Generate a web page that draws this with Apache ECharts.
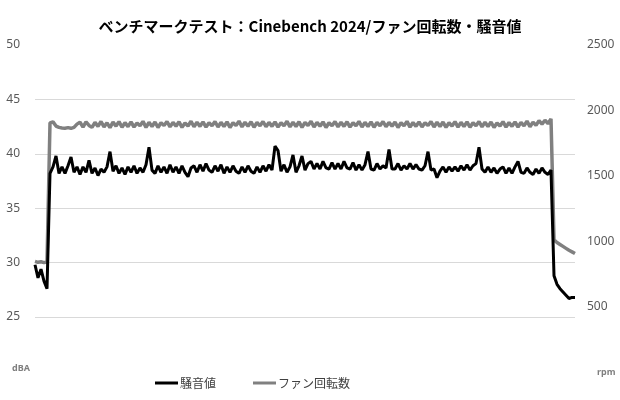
<!DOCTYPE html>
<html><head><meta charset="utf-8">
<script src="https://cdn.jsdelivr.net/npm/echarts@6/dist/echarts.min.js"></script>
<style>html,body{margin:0;padding:0;background:#fff}#c{width:620px;height:400px}</style>
</head><body><div id="c"></div>
<script>
const titleText = 'ベンチマークテスト：Cinebench 2024/ファン回転数・騒音値';
const seriesNames = ['騒音値', 'ファン回転数'];
const dbaTicks = [25, 30, 35, 40, 45, 50];
const rpmTicks = [500, 1000, 1500, 2000, 2500];
const noise = [
29.8,28.6,29.4,28.3,27.6,38.2,38.8,39.8,38.2,38.8,
38.2,38.9,39.7,38.3,38.8,38.1,38.8,38.3,39.4,38.2,
38.7,38.0,38.6,38.3,38.8,40.2,38.4,38.9,38.2,38.7,
38.1,38.8,38.3,38.9,38.2,38.7,38.3,39.0,40.6,38.5,
38.2,38.9,38.3,38.8,38.2,39.0,38.3,38.8,38.2,38.9,
38.3,37.9,38.7,38.9,38.3,39.0,38.4,39.1,38.5,38.3,
38.9,38.4,39.0,38.2,38.8,38.3,38.9,38.4,38.2,38.8,
38.3,38.9,38.4,38.2,38.8,38.3,38.9,38.4,39.0,38.5,
40.7,40.3,38.4,39.0,38.3,38.8,39.9,38.3,38.9,39.8,
38.5,39.1,39.3,38.6,39.1,38.6,39.3,38.7,38.6,39.2,
38.6,39.1,38.6,39.3,38.7,38.6,39.2,38.5,39.0,38.5,
39.0,40.2,38.6,38.5,39.1,38.6,38.9,38.7,40.4,38.6,
38.6,39.1,38.5,38.9,38.6,39.1,38.6,39.0,38.6,38.5,
38.9,40.2,38.5,38.6,37.8,38.4,38.8,38.3,38.8,38.4,
38.8,38.4,38.9,38.5,39.0,38.5,38.9,39.1,40.6,38.6,
38.3,38.8,38.3,38.7,38.2,38.6,38.8,38.2,38.7,38.2,
38.8,39.3,38.3,38.2,38.7,38.3,38.1,38.6,38.2,38.7,
38.3,38.1,38.5,28.8,28.0,27.6,27.3,27.0,26.7,26.8,
26.8];
const fan = [
845,838,842,836,840,1905,1912,1880,1870,1866,
1864,1868,1863,1870,1895,1910,1872,1912,1885,1870,
1908,1878,1915,1874,1905,1868,1910,1880,1914,1871,
1906,1876,1912,1873,1904,1882,1916,1870,1909,1877,
1911,1869,1905,1884,1915,1874,1908,1879,1913,1870,
1904,1881,1917,1875,1909,1878,1912,1872,1906,1883,
1915,1873,1908,1877,1912,1869,1905,1884,1918,1874,
1909,1879,1913,1871,1907,1882,1915,1875,1908,1878,
1912,1872,1906,1883,1916,1874,1909,1877,1913,1870,
1907,1884,1917,1873,1908,1879,1912,1869,1905,1883,
1915,1874,1909,1878,1913,1872,1906,1882,1916,1873,
1908,1877,1912,1871,1907,1883,1915,1875,1908,1879,
1911,1869,1905,1882,1916,1872,1907,1878,1912,1874,
1906,1884,1915,1873,1909,1876,1911,1870,1905,1880,
1914,1872,1908,1877,1912,1871,1906,1883,1915,1874,
1909,1876,1911,1869,1904,1880,1914,1872,1907,1878,
1912,1873,1908,1882,1918,1875,1910,1885,1922,1895,
1925,1900,1935,1010,990,975,960,945,930,918,
905];
const cats = noise.map((_, i) => i);

const chart = echarts.init(document.getElementById('c'), null, {renderer: 'canvas'});
chart.setOption({
  animation: false,
  backgroundColor: '#fff',
  title: {
    text: titleText, left: 'center', top: 14,
    textStyle: {fontFamily: 'Noto Sans CJK JP', fontSize: 15, fontWeight: 'bold', color: '#000'}
  },
  legend: {
    bottom: 6, left: 150, itemGap: 37, itemWidth: 23, itemHeight: 3,
    data: [{name: seriesNames[0], icon: 'rect'}, {name: seriesNames[1], icon: 'rect'}],
    textStyle: {fontFamily: 'Noto Sans CJK JP', fontSize: 12, color: '#404040', padding: [0,0,0,-3]}
  },
  grid: {left: 35, right: 45, top: 45, bottom: 83, containLabel: false},
  xAxis: {
    type: 'category', data: cats, boundaryGap: false,
    axisLine: {show: false}, axisTick: {show: false}, axisLabel: {show: false}, splitLine: {show: false}
  },
  yAxis: [{
    type: 'value', min: dbaTicks[0], max: dbaTicks[dbaTicks.length-1], interval: 5,
    axisLine: {show: false}, axisTick: {show: false},
    axisLabel: {color: '#595959', fontSize: 12, fontFamily: 'Noto Sans', margin: 15},
    splitLine: {show: true, showMaxLine: false, lineStyle: {color: '#d9d9d9', width: 1}}
  }, {
    type: 'value', min: 420, max: 2500, position: 'right',
    axisLine: {show: false}, axisTick: {show: false},
    axisLabel: {customValues: rpmTicks, formatter: v => String(v), color: '#595959', fontSize: 12, fontFamily: 'Noto Sans', margin: 12},
    splitLine: {show: false}
  }],
  graphic: [
    {type: 'text', left: 12, top: 364, style: {text: 'dBA', fill: '#7f7f7f', font: 'bold 9px "Noto Sans"'}},
    {type: 'text', left: 597, top: 368, style: {text: 'rpm', fill: '#7f7f7f', font: 'bold 9px "Noto Sans"'}}
  ],
  series: [{
    name: seriesNames[1], type: 'line', yAxisIndex: 1, data: fan, showSymbol: false, symbol: 'none',
    lineStyle: {color: '#808080', width: 3.5}, itemStyle: {color: '#808080'}
  }, {
    name: seriesNames[0], type: 'line', yAxisIndex: 0, data: noise, showSymbol: false, symbol: 'none',
    lineStyle: {color: '#000', width: 3}, itemStyle: {color: '#000'}
  }]
});
</script></body></html>
